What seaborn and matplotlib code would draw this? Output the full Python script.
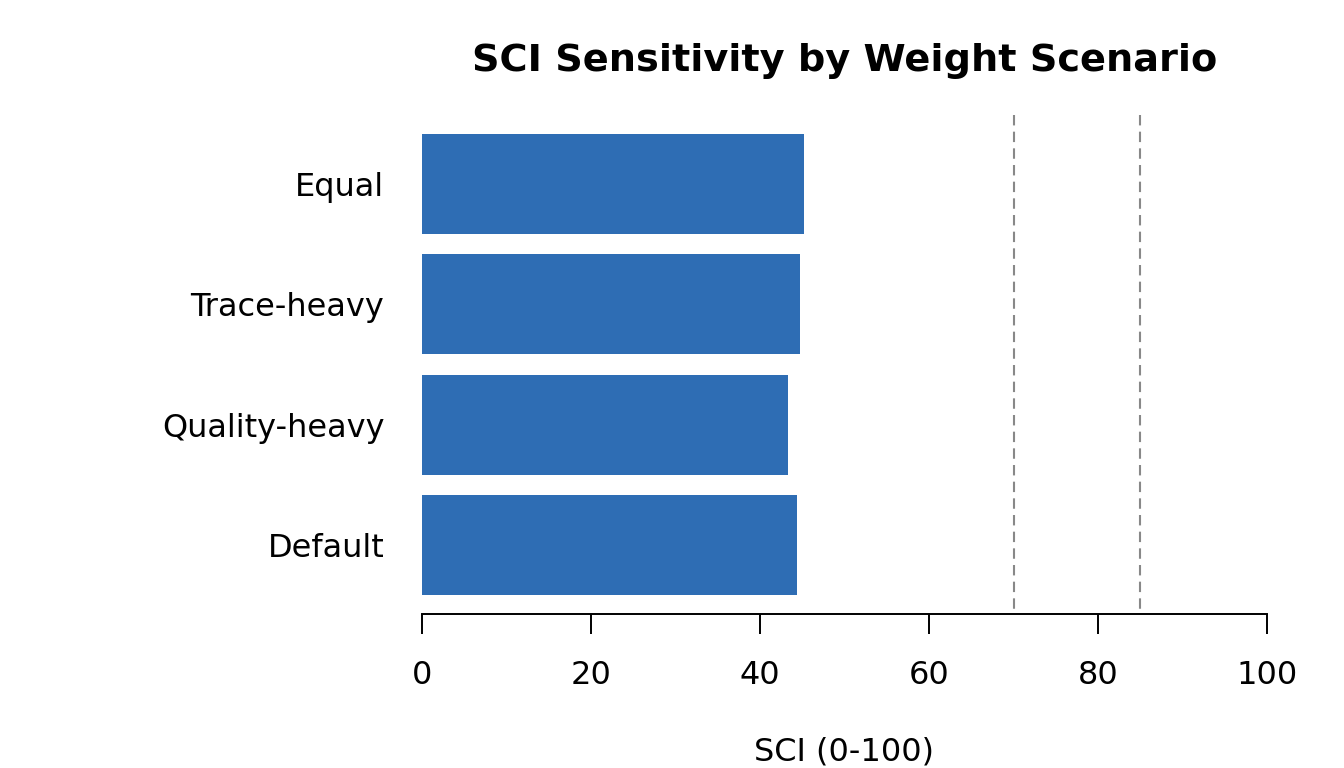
import pandas as pd
import matplotlib
matplotlib.use("Agg")
import matplotlib.pyplot as plt
import seaborn as sns

# Data
scenarios = ["Equal", "Trace-heavy", "Quality-heavy", "Default"]
sci_values = [45.2, 44.7, 43.3, 44.4]
thresholds = [70, 85]
x_ticks = [0, 20, 40, 60, 80, 100]

df = pd.DataFrame({"scenario": scenarios, "sci": sci_values})

sns.set_style("white")
plt.rcParams["font.family"] = ["DejaVu Sans"]
plt.rcParams["text.color"] = "black"
plt.rcParams["axes.labelcolor"] = "black"
plt.rcParams["xtick.color"] = "black"
plt.rcParams["ytick.color"] = "black"

fig = plt.figure(figsize=(13.44, 7.68), dpi=100)
ax = fig.add_axes([422 / 1344, (768 - 614) / 768, (1267 - 422) / 1344, (614 - 115) / 768])

sns.barplot(data=df, x="sci", y="scenario", order=scenarios, orient="h",
            color="#2E6DB4", saturation=1, width=0.83, linewidth=0, ax=ax)

# threshold lines, drawn top-down so the dash pattern starts at the top
for t in thresholds:
    ax.axvline(t, ymin=1, ymax=0, color="#888888", lw=1.5, dashes=(5, 3))

ax.set_xlim(0, 100)
ax.set_ylim(3.57, -0.57)
ax.set_xticks(x_ticks)
ax.set_xticklabels([str(v) for v in x_ticks])
for s in ["top", "right", "left"]:
    ax.spines[s].set_visible(False)
ax.spines["bottom"].set_linewidth(1.4)
ax.spines["bottom"].set_color("black")
ax.tick_params(axis="x", bottom=True, direction="out", length=14.4, width=1.4,
               color="black", pad=18.5, labelsize=23)
ax.tick_params(axis="y", left=False, length=0, pad=27, labelsize=23)
ax.set_ylabel("")
ax.set_xlabel("SCI (0-100)", fontsize=23, labelpad=33)
ax.set_title("SCI Sensitivity by Weight Scenario", fontsize=27.5,
             fontweight="bold", pad=32)

fig.savefig("out.png", dpi=100)
